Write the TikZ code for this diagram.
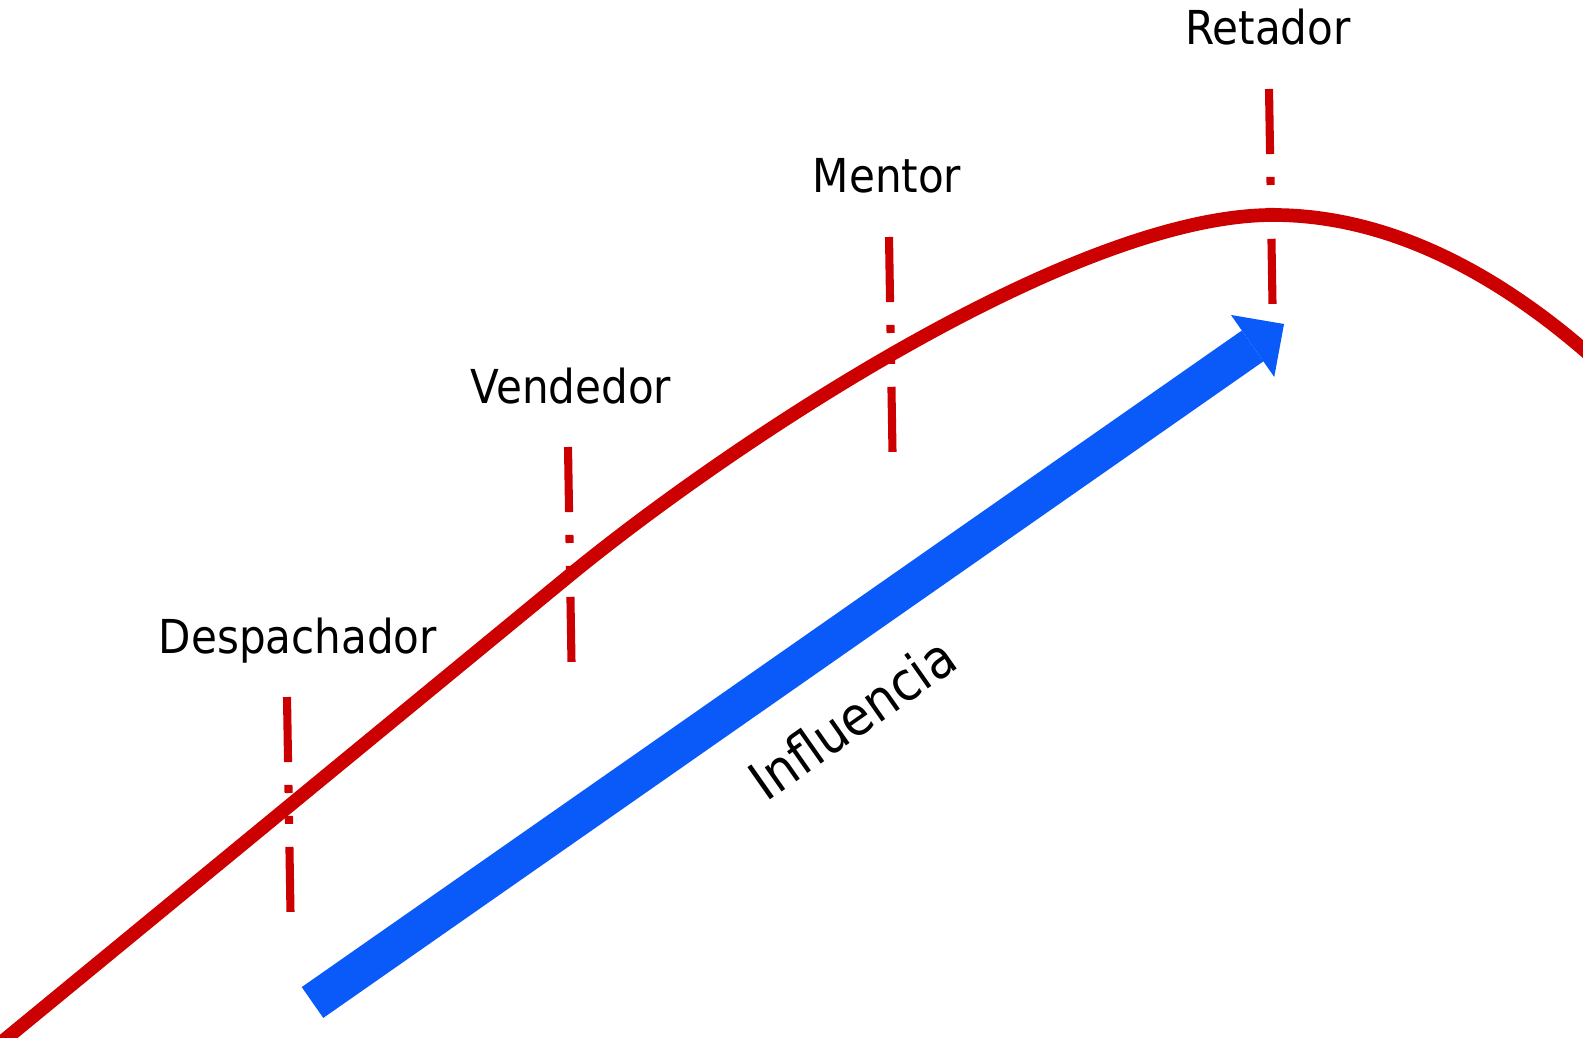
\documentclass[tikz,border=0pt]{standalone}
\usepackage{fontspec}
\setmainfont{DejaVu Sans Condensed}
\usetikzlibrary{arrows.meta}

\definecolor{rojo}{RGB}{204,0,0}
\definecolor{azul}{RGB}{10,90,250}

\tikzset{
  etiqueta/.style={font=\fontsize{13.3}{16}\selectfont, inner sep=0pt},
  marca/.style={rojo, line width=2.3pt,
    dash pattern=on 18.5pt off 6.5pt on 2.3pt off 6.5pt on 2.3pt off 6.5pt},
  curva/.style={rojo, line width=3.9pt},
  influencia/.style={azul, line width=10.7pt,
    -{Triangle[length=10.9pt,width=21.5pt,line width=0pt]}}
}

\begin{document}
\begin{tikzpicture}[x=0.01cm,y=-0.01cm]
\clip (0,0) rectangle (1583,1037);
% etapas: marca vertical y nombre encima
\foreach \nombre/\x/\y/\lx in {Despachador/287/697/298,Vendedor/568/447/571,Mentor/889/237/887,Retador/1269/89/1268}
{
\coordinate (\nombre-a) at (\x,\y);
\coordinate (\nombre-b) at (\x+3.5,\y+216);
\node[etiqueta, anchor=base] (\nombre) at (\lx,\y-44) {\nombre};
\draw[marca] (\nombre-a) -- (\nombre-b);
}
% curva de la carrera
\draw[curva] (-20,1060) -- (570,575)
  .. controls (730,444) and (1073,215) .. (1273,215)
  .. controls (1393,215) and (1505,278) .. (1600,364);
% flecha de influencia
\coordinate (base) at (312.5,1002.5);
\coordinate (punta) at (1284,324);
\draw[influencia] (base) -- (punta);
\node[etiqueta, font=\fontsize{15.3}{18}\selectfont, rotate=35] (influencia) at (852,718) {Influencia};
\end{tikzpicture}
\end{document}
